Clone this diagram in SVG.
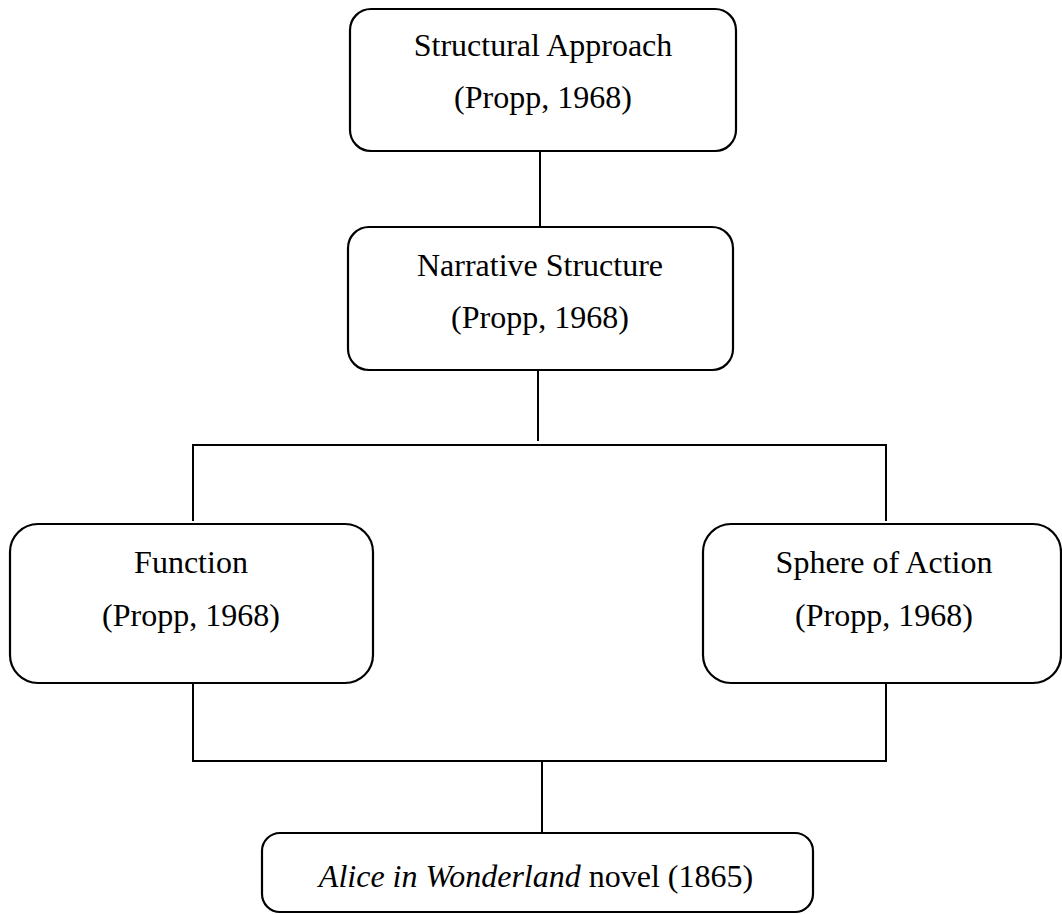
<svg xmlns="http://www.w3.org/2000/svg" width="1062" height="914" viewBox="0 0 1062 914">
<style>
.box{fill:#fff;stroke:#000;stroke-width:2.2}
.ln{fill:none;stroke:#000;stroke-width:2}
text{font-family:"Liberation Serif","Times New Roman",serif;font-size:32px;fill:#000;text-anchor:middle}
</style>
<rect width="1062" height="914" fill="#fff"/>
<g id="connectors">
<line class="ln" x1="540" y1="152" x2="540" y2="227"/>
<line class="ln" x1="538" y1="371" x2="538" y2="441"/>
<polyline class="ln" points="193,521 193,445 886,445 886,521"/>
<polyline class="ln" points="193,684 193,761 886,761 886,684"/>
<line class="ln" x1="542" y1="762" x2="542" y2="833"/>
</g>
<g id="structural">
<rect class="box" x="350" y="9" width="386" height="142" rx="21"/>
<text x="543" y="56">Structural Approach</text>
<text x="543" y="108">(Propp, 1968)</text>
</g>
<g id="narrative">
<rect class="box" x="348" y="227" width="385" height="143" rx="21"/>
<text x="540" y="276">Narrative Structure</text>
<text x="540" y="328">(Propp, 1968)</text>
</g>
<g id="function">
<rect class="box" x="10" y="524" width="363" height="159" rx="28"/>
<text x="191" y="573">Function</text>
<text x="191" y="626">(Propp, 1968)</text>
</g>
<g id="sphere">
<rect class="box" x="703" y="524" width="358" height="159" rx="28"/>
<text x="884" y="573">Sphere of Action</text>
<text x="884" y="626">(Propp, 1968)</text>
</g>
<g id="alice">
<rect class="box" x="262" y="833" width="551" height="79" rx="18"/>
<text x="536" y="887"><tspan font-style="italic">Alice in Wonderland</tspan> novel (1865)</text>
</g>
</svg>
